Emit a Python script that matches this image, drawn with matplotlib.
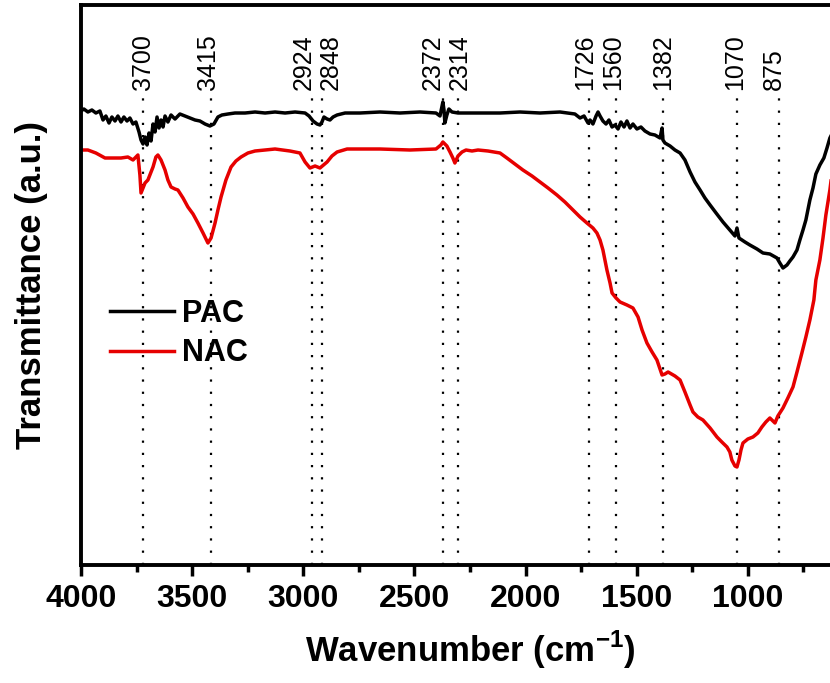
import matplotlib
matplotlib.use("Agg")
import matplotlib.pyplot as plt
from matplotlib.ticker import MultipleLocator

plt.rcParams["font.family"] = ["Liberation Sans", "DejaVu Sans"]
plt.rcParams["mathtext.fontset"] = "custom"
plt.rcParams["mathtext.rm"] = "Liberation Sans"
plt.rcParams["mathtext.bf"] = "Liberation Sans:bold"

# PAC spectrum (wavenumber, transmittance in a.u.)
pac_wn = [4000, 3987, 3969, 3951, 3933, 3915, 3901, 3888, 3874, 3861, 3847, 3834,
          3820, 3807, 3793, 3780, 3766, 3753, 3739, 3730, 3721, 3712, 3703, 3694,
          3685, 3676, 3667, 3658, 3649, 3640, 3631, 3622, 3609, 3595, 3577, 3555,
          3532, 3510, 3487, 3465, 3442, 3420, 3402, 3384, 3366, 3339, 3307, 3262,
          3217, 3172, 3127, 3082, 3037, 2992, 2974, 2956, 2938, 2925, 2916, 2907,
          2893, 2880, 2866, 2848, 2812, 2745, 2655, 2565, 2475, 2403, 2385, 2376,
          2372, 2367, 2363, 2354, 2345, 2331, 2304, 2205, 2115, 2025, 1935, 1845,
          1778, 1755, 1737, 1719, 1710, 1697, 1683, 1674, 1665, 1652, 1638, 1625,
          1611, 1598, 1584, 1571, 1557, 1544, 1530, 1517, 1499, 1481, 1463, 1440,
          1418, 1395, 1386, 1382, 1373, 1350, 1328, 1305, 1283, 1260, 1238, 1215,
          1193, 1170, 1143, 1112, 1081, 1058, 1049, 1040, 1013, 991, 959, 932,
          901, 869, 856, 842, 824, 811, 797, 779, 766, 752, 739, 721,
          707, 694, 676, 658, 644, 631, 608, 577, 541, 500]
pac_t = [454, 456, 453, 455, 452, 454, 445, 449, 442, 448, 444, 449,
         443, 448, 444, 447, 441, 443, 433, 425, 421, 428, 420, 432,
         424, 441, 433, 448, 437, 445, 438, 449, 443, 450, 446, 451,
         449, 447, 445, 444, 441, 439, 441, 448, 450, 451, 452, 452,
         453, 452, 453, 452, 453, 452, 449, 444, 441, 440, 443, 448,
         446, 445, 448, 450, 452, 452, 453, 452, 453, 452, 449, 459,
         463, 455, 442, 450, 456, 453, 452, 452, 452, 453, 452, 453,
         451, 447, 449, 442, 445, 441, 449, 453, 449, 444, 441, 445,
         438, 440, 436, 443, 438, 444, 437, 441, 436, 438, 434, 431,
         430, 427, 437, 425, 422, 419, 415, 412, 405, 393, 383, 375,
         367, 360, 352, 343, 335, 329, 337, 327, 323, 320, 316, 312,
         311, 307, 302, 297, 300, 304, 308, 315, 325, 335, 345, 365,
         377, 391, 400, 407, 417, 427, 437, 445, 449, 451]

# NAC spectrum
nac_wn = [4000, 3969, 3933, 3892, 3856, 3820, 3789, 3766, 3753, 3744, 3735, 3730,
          3721, 3712, 3699, 3685, 3676, 3663, 3654, 3640, 3622, 3609, 3595, 3577,
          3564, 3541, 3519, 3496, 3474, 3451, 3429, 3415, 3397, 3384, 3370, 3348,
          3325, 3303, 3280, 3249, 3217, 3172, 3127, 3060, 3015, 2992, 2970, 2947,
          2925, 2893, 2871, 2848, 2803, 2655, 2520, 2403, 2381, 2372, 2354, 2340,
          2327, 2318, 2304, 2286, 2268, 2241, 2214, 2169, 2115, 2084, 2048, 2012,
          1971, 1935, 1899, 1859, 1823, 1787, 1755, 1724, 1697, 1679, 1665, 1652,
          1643, 1634, 1620, 1611, 1593, 1575, 1544, 1517, 1494, 1476, 1454, 1431,
          1409, 1386, 1373, 1359, 1328, 1305, 1283, 1260, 1247, 1225, 1202, 1170,
          1139, 1117, 1094, 1081, 1072, 1058, 1049, 1040, 1031, 1022, 1000, 977,
          955, 937, 919, 901, 887, 878, 865, 842, 820, 797, 779, 757,
          739, 721, 703, 694, 676, 662, 649, 631, 617, 595, 563, 532, 500]
nac_t = [415, 415, 412, 407, 407, 407, 408, 405, 408, 410, 390, 372,
         377, 382, 385, 393, 398, 408, 410, 405, 395, 385, 378, 376,
         375, 367, 358, 351, 342, 332, 322, 327, 342, 355, 368, 385,
         398, 404, 408, 412, 414, 415, 416, 414, 412, 403, 397, 399,
         397, 403, 409, 413, 416, 416, 415, 416, 420, 423, 419, 413,
         407, 402, 409, 413, 415, 414, 415, 414, 412, 407, 401, 395,
         389, 383, 377, 370, 363, 355, 348, 342, 337, 332, 325, 315,
         305, 295, 282, 272, 267, 263, 260, 257, 248, 235, 222, 213,
         205, 190, 191, 193, 189, 185, 173, 160, 153, 148, 145, 137,
         128, 123, 118, 113, 105, 99, 98, 105, 115, 122, 126, 128,
         132, 138, 143, 147, 144, 142, 149, 157, 167, 178, 193, 212,
         228, 245, 265, 285, 305, 327, 350, 375, 400, 417, 425, 428, 429]

# marked bands: where the dotted line sits, where its label sits, label text
band_pos = [3722, 3415, 2962, 2916, 2372, 2305, 1715, 1593, 1383, 1049, 862]
band_label_pos = [3722, 3429, 2997, 2875, 2417, 2295, 1733, 1607, 1382, 1058, 883]
band_labels = ["3700", "3415", "2924", "2848", "2372", "2314",
               "1726", "1560", "1382", "1070", "875"]

fig = plt.figure(figsize=(8.3, 6.83), dpi=100)
ax = fig.add_axes([81 / 830, 118 / 683, 778 / 830, 560 / 683])

ax.plot(pac_wn, pac_t, color="black", lw=2.5, label="PAC")
ax.plot(nac_wn, nac_t, color="#e60000", lw=2.5, label="NAC")

for pos in band_pos:
    ax.plot([pos, pos], [0, 468], color="black", lw=1.6,
            linestyle=(0, (1, 4.5)), zorder=0)
for pos, lab in zip(band_label_pos, band_labels):
    ax.text(pos, 475, lab, rotation=90, ha="center", va="bottom", fontsize=18)

ax.set_xlim(4000, 500)
ax.set_ylim(0, 560)
ax.set_xticks([4000, 3500, 3000, 2500, 2000, 1500, 1000])
ax.xaxis.set_minor_locator(MultipleLocator(250))
ax.set_yticks([])
ax.tick_params(axis="x", which="major", direction="out", length=8, width=2.5,
               pad=6, labelsize=23)
ax.tick_params(axis="x", which="minor", direction="out", length=5, width=2.5)
for lbl in ax.get_xticklabels():
    lbl.set_fontweight("bold")
for sp in ax.spines.values():
    sp.set_linewidth(2.8)

ax.set_xlabel(r"Wavenumber (cm$^{\mathbf{-1}}$)", fontsize=25, fontweight="bold",
              labelpad=10)
ax.set_ylabel("Transmittance (a.u.)", fontsize=25, fontweight="bold", labelpad=24)

ax.legend(loc="upper left", bbox_to_anchor=(0.018, 0.502), frameon=False,
          prop={"size": 22, "weight": "bold"}, handlelength=2.1,
          handletextpad=0.25, labelspacing=0.3, borderpad=0)

fig.savefig("out.png", dpi=100)
